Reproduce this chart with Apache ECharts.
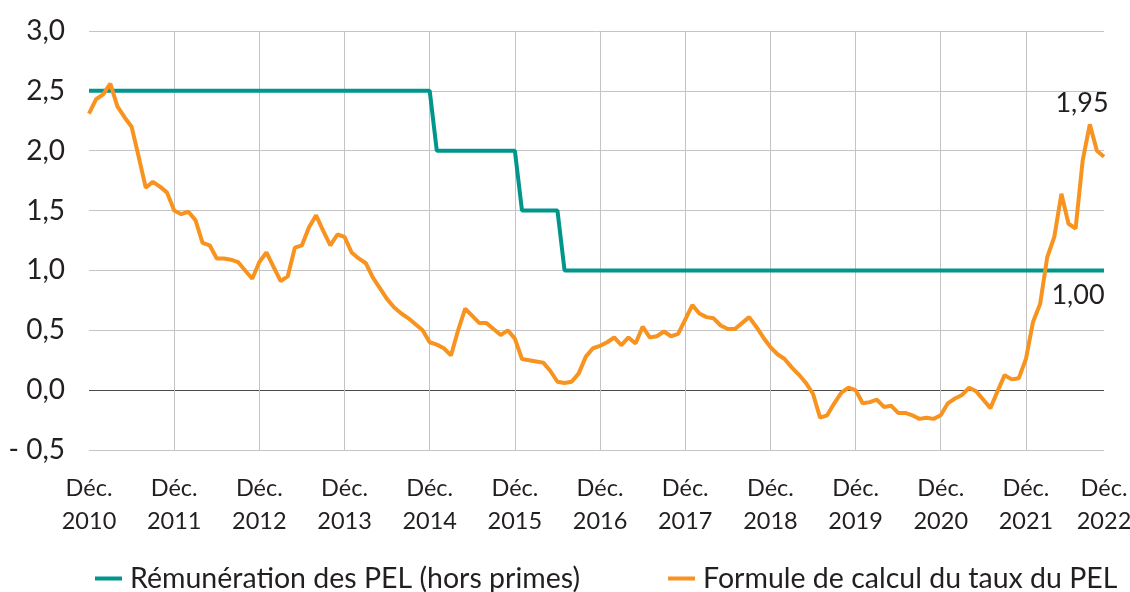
<!DOCTYPE html>
<html>
<head>
<meta charset="utf-8">
<script src="https://cdn.jsdelivr.net/npm/echarts@6/dist/echarts.min.js"></script>
<style>
  html, body { margin: 0; padding: 0; background: #fff; }
  #chart { width: 1130px; height: 592px; }
</style>
</head>
<body>
<div id="chart"></div>
<script>
// monthly values, Dec 2010 .. Nov 2022
const startYear = 2010
const startMonth = 11 // december (0-based)

const tickLabels = ['Déc.\n2010', 'Déc.\n2011', 'Déc.\n2012', 'Déc.\n2013', 'Déc.\n2014', 'Déc.\n2015',
  'Déc.\n2016', 'Déc.\n2017', 'Déc.\n2018', 'Déc.\n2019', 'Déc.\n2020', 'Déc.\n2021', 'Déc.\n2022']

const remunerationPEL = [
  2.5, 2.5, 2.5, 2.5, 2.5, 2.5, 2.5, 2.5, 2.5, 2.5, 2.5, 2.5,
  2.5, 2.5, 2.5, 2.5, 2.5, 2.5, 2.5, 2.5, 2.5, 2.5, 2.5, 2.5,
  2.5, 2.5, 2.5, 2.5, 2.5, 2.5, 2.5, 2.5, 2.5, 2.5, 2.5, 2.5,
  2.5, 2.5, 2.5, 2.5, 2.5, 2.5, 2.5, 2.5, 2.5, 2.5, 2.5, 2.5,
  2.5, 2.0, 2.0, 2.0, 2.0, 2.0, 2.0, 2.0, 2.0, 2.0, 2.0, 2.0,
  2.0, 1.5, 1.5, 1.5, 1.5, 1.5, 1.5, 1.0, 1.0, 1.0, 1.0, 1.0,
  1.0, 1.0, 1.0, 1.0, 1.0, 1.0, 1.0, 1.0, 1.0, 1.0, 1.0, 1.0,
  1.0, 1.0, 1.0, 1.0, 1.0, 1.0, 1.0, 1.0, 1.0, 1.0, 1.0, 1.0,
  1.0, 1.0, 1.0, 1.0, 1.0, 1.0, 1.0, 1.0, 1.0, 1.0, 1.0, 1.0,
  1.0, 1.0, 1.0, 1.0, 1.0, 1.0, 1.0, 1.0, 1.0, 1.0, 1.0, 1.0,
  1.0, 1.0, 1.0, 1.0, 1.0, 1.0, 1.0, 1.0, 1.0, 1.0, 1.0, 1.0,
  1.0, 1.0, 1.0, 1.0, 1.0, 1.0, 1.0, 1.0, 1.0, 1.0, 1.0, 1.0
]

const formulePEL = [
  2.31, 2.43, 2.47, 2.56, 2.37, 2.28, 2.20, 1.95, 1.69, 1.74, 1.70, 1.65,
  1.50, 1.47, 1.49, 1.42, 1.23, 1.21, 1.10, 1.10, 1.09, 1.07, 1.00, 0.93,
  1.07, 1.15, 1.03, 0.91, 0.95, 1.19, 1.21, 1.36, 1.46, 1.33, 1.21, 1.30,
  1.28, 1.15, 1.10, 1.06, 0.94, 0.85, 0.76, 0.69, 0.64, 0.60, 0.55, 0.50,
  0.40, 0.38, 0.35, 0.29, 0.50, 0.68, 0.62, 0.56, 0.56, 0.51, 0.46, 0.50,
  0.43, 0.26, 0.25, 0.24, 0.23, 0.16, 0.07, 0.06, 0.07, 0.14, 0.28, 0.35,
  0.37, 0.40, 0.44, 0.375, 0.44, 0.39, 0.53, 0.44, 0.45, 0.49, 0.45, 0.47,
  0.59, 0.71, 0.64, 0.61, 0.60, 0.54, 0.51, 0.51, 0.56, 0.61, 0.53, 0.44,
  0.36, 0.30, 0.26, 0.19, 0.13, 0.06, -0.03, -0.23, -0.21, -0.11, -0.02, 0.02,
  0.00, -0.11, -0.10, -0.08, -0.14, -0.13, -0.19, -0.19, -0.21, -0.24, -0.23, -0.24,
  -0.21, -0.11, -0.07, -0.04, 0.02, -0.01, -0.08, -0.15, -0.01, 0.125, 0.09, 0.10,
  0.26, 0.57, 0.72, 1.11, 1.28, 1.64, 1.39, 1.35, 1.92, 2.22, 2.00, 1.95
]

const months = formulePEL.map((v, i) => {
  const m = startMonth + i
  return (startYear + Math.floor(m / 12)) + '-' + String(m % 12 + 1).padStart(2, '0')
})

const FONT = "'Lato', sans-serif"
const TEXT = '#231f20'
const fr = (v, d) => v.toFixed(d).replace('.', ',')

const chart = echarts.init(document.getElementById('chart'))
chart.setOption({
  animation: false,
  grid: { left: 89, right: 26, top: 31, bottom: 142, outerBoundsMode: 'none' },
  legend: {
    left: 90,
    top: 559,
    icon: 'rect',
    itemWidth: 27,
    itemHeight: 4,
    itemGap: 88,
    textStyle: { fontFamily: FONT, fontSize: 28.5, color: TEXT, padding: [0, 0, 0, 3] },
    data: ['Rémunération des PEL (hors primes)', 'Formule de calcul du taux du PEL']
  },
  xAxis: {
    type: 'category',
    boundaryGap: false,
    data: months,
    axisLine: { show: false },
    axisTick: { show: false },
    axisLabel: {
      interval: (i) => i % 12 === 0 || i === months.length - 1,
      formatter: (val, i) => tickLabels[Math.round(i / 12)],
      fontFamily: FONT,
      fontSize: 23.5,
      lineHeight: 33,
      color: TEXT,
      margin: 22,
      hideOverlap: false
    },
    splitLine: {
      show: true,
      interval: (i) => i > 0 && i % 12 === 0,
      lineStyle: { color: '#c4c4c4', width: 1 }
    }
  },
  yAxis: {
    type: 'value',
    min: -0.5,
    max: 3,
    interval: 0.5,
    axisLine: { show: false },
    axisTick: { show: false },
    axisLabel: {
      formatter: (v) => (v < 0 ? '- ' + fr(-v, 1) : fr(v, 1)),
      fontFamily: FONT,
      fontSize: 28,
      color: TEXT,
      margin: 24
    },
    splitLine: {
      lineStyle: {
        color: ['#c4c4c4', '#4a4a4a', '#c4c4c4', '#c4c4c4', '#c4c4c4', '#c4c4c4', '#c4c4c4', '#c4c4c4'],
        width: 1
      }
    }
  },
  series: [
    {
      name: 'Rémunération des PEL (hors primes)',
      type: 'line',
      data: remunerationPEL,
      showSymbol: false,
      itemStyle: { color: '#00968c' },
      lineStyle: { color: '#00968c', width: 4 },
      endLabel: {
        show: true,
        formatter: (p) => fr(p.value, 2),
        fontFamily: FONT,
        fontSize: 27,
        color: TEXT,
        align: 'center',
        verticalAlign: 'middle',
        distance: 0,
        offset: [-26, 25]
      }
    },
    {
      name: 'Formule de calcul du taux du PEL',
      type: 'line',
      data: formulePEL,
      showSymbol: false,
      itemStyle: { color: '#f7931e' },
      lineStyle: { color: '#f7931e', width: 4 },
      endLabel: {
        show: true,
        formatter: (p) => fr(p.value, 2),
        fontFamily: FONT,
        fontSize: 27,
        color: TEXT,
        align: 'center',
        verticalAlign: 'middle',
        distance: 0,
        offset: [-22, -53]
      }
    }
  ]
})
</script>
</body>
</html>
